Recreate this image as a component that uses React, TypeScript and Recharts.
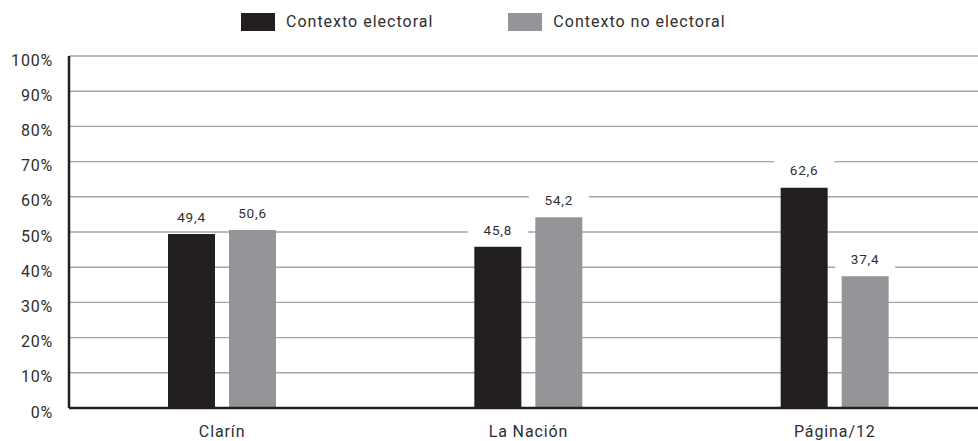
import React from "react";
import { BarChart, Bar, XAxis, YAxis, CartesianGrid, LabelList } from "recharts";

const categories = ["Clarín", "La Nación", "Página/12"];
const electoral = [49.4, 45.8, 62.6];
const noElectoral = [50.6, 54.2, 37.4];
const yTicks = [0, 10, 20, 30, 40, 50, 60, 70, 80, 90, 100];
const seriesNames = ["Contexto electoral", "Contexto no electoral"];
const seriesColors = ["#231f20", "#939598"];

const data = categories.map((c, i) => ({ name: c, electoral: electoral[i], noElectoral: noElectoral[i] }));

const FONT = "Roboto, 'DejaVu Sans', sans-serif";
const TEXT = "#2e2e2e";
const AXIS = "#231f20";

// value label with a white box behind it (hides the gridline)
function ValueLabel(props: any) {
  const { x, y, width, value } = props;
  const cx = Number(x) + Number(width) / 2;
  const cy = Number(y) - 17;
  return (
    <g>
      <rect x={cx - 30} y={cy - 10} width={60} height={20} fill="#fff" />
      <text
        x={cx}
        y={cy}
        dy="0.35em"
        textAnchor="middle"
        fontSize={13.5}
        fontFamily={FONT}
        letterSpacing={0.8}
        fill={TEXT}
      >
        {Number(value).toFixed(1).replace(".", ",")}
      </text>
    </g>
  );
}

export default function App() {
  return (
    <div style={{ position: "relative", width: 978, height: 441, overflow: "hidden", background: "#fff" }}>
      <style>{`body{margin:0;overflow:hidden}`}</style>

      {/* legend */}
      <div
        style={{
          position: "absolute", top: 13, left: 241, display: "flex", alignItems: "center",
          fontFamily: FONT, fontSize: 16, letterSpacing: 1, color: TEXT, zIndex: 2,
        }}
      >
        {seriesNames.map((n, i) => (
          <div key={n} style={{ display: "flex", alignItems: "center", marginRight: i === 0 ? 75 : 0 }}>
            <span style={{ display: "inline-block", width: 34, height: 18, background: seriesColors[i], marginRight: 11 }} />
            <span style={{ lineHeight: "18px" }}>{n}</span>
          </div>
        ))}
      </div>

      <BarChart
        width={988}
        height={441}
        data={data}
        margin={{ top: 56, right: 0, bottom: 0, left: 0 }}
        barSize={47}
        barGap={14}
      >
        <CartesianGrid vertical={false} stroke="#a3a5a8" strokeWidth={1.4} />
        <XAxis
          dataKey="name"
          height={33}
          tickLine={false}
          tickSize={0}
          tickMargin={18}
          axisLine={{ stroke: AXIS, strokeWidth: 2.5 }}
          tick={{ fontSize: 16, fontFamily: FONT, fill: TEXT, letterSpacing: 0.9 }}
        />
        <YAxis
          width={69}
          domain={[0, 100]}
          ticks={yTicks}
          interval={0}
          tickLine={false}
          tickSize={0}
          tickMargin={16}
          axisLine={{ stroke: AXIS, strokeWidth: 2.5 }}
          tickFormatter={(v) => `${v}%`}
          tick={{ fontSize: 16, fontFamily: FONT, fill: TEXT, letterSpacing: 0.8, dy: 4 }}
        />
        <Bar dataKey="electoral" name={seriesNames[0]} fill={seriesColors[0]} isAnimationActive={false}>
          <LabelList dataKey="electoral" content={ValueLabel} />
        </Bar>
        <Bar dataKey="noElectoral" name={seriesNames[1]} fill={seriesColors[1]} isAnimationActive={false}>
          <LabelList dataKey="noElectoral" content={ValueLabel} />
        </Bar>
      </BarChart>
    </div>
  );
}
